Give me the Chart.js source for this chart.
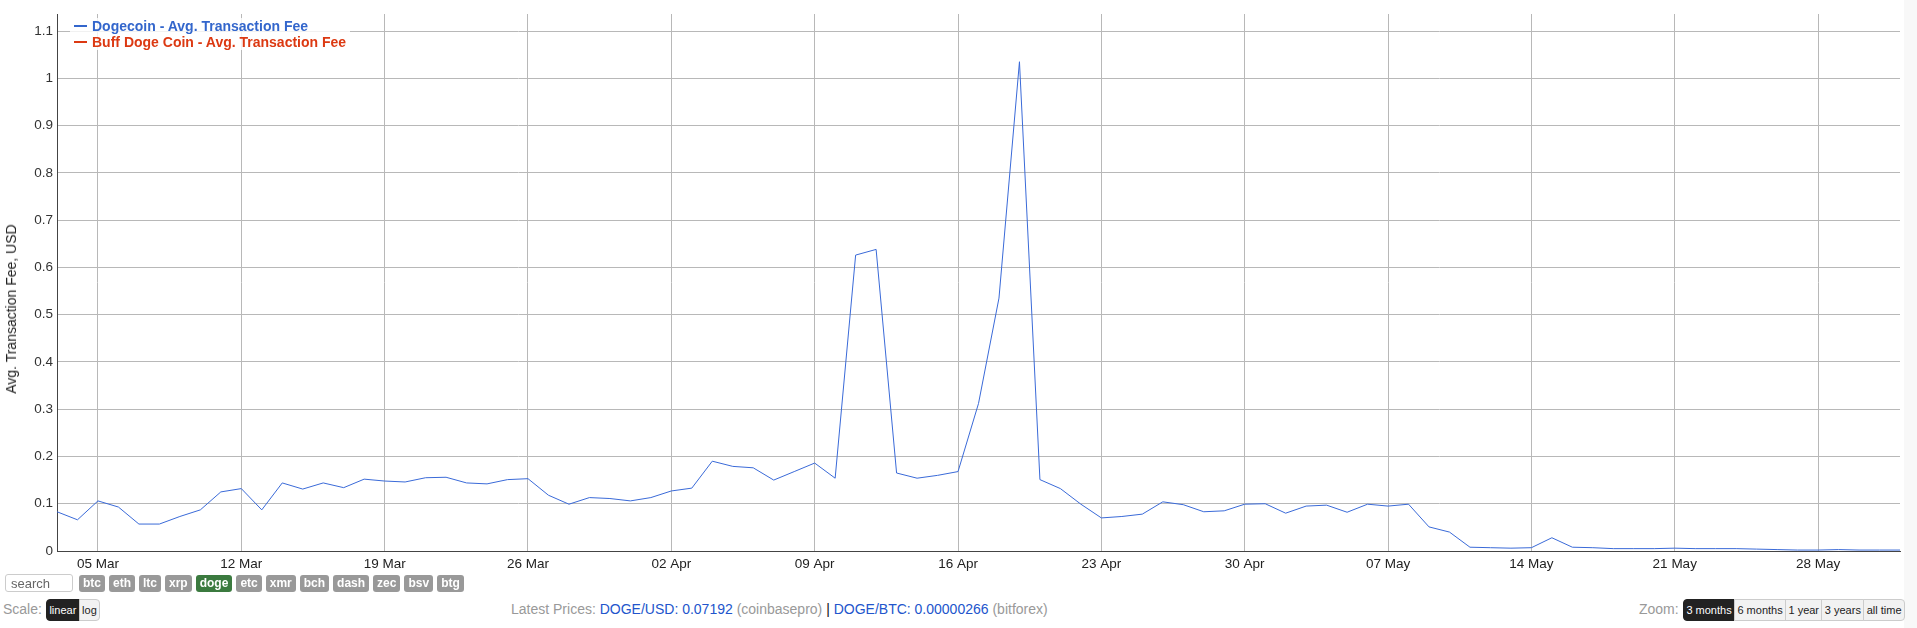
<!DOCTYPE html>
<html>
<head>
<meta charset="utf-8">
<title>Dogecoin - Avg. Transaction Fee</title>
<script src="https://cdn.jsdelivr.net/npm/chart.js@4/dist/chart.umd.min.js"></script>
<style>
    html, body { margin: 0; padding: 0; background: #fff; }
    body { width: 1917px; height: 628px; position: relative; overflow: hidden;
           font-family: Arial, "Liberation Sans", sans-serif; }
    #chartBox { position: absolute; left: 0; top: 0; width: 1904px; height: 575px; }
    #sideStrip { position: absolute; left: 1904px; top: 0; width: 13px; height: 628px; background: #f8f8f8; }
    #yTitle { position: absolute; left: 11px; top: 309px; transform: translate(-50%, -50%) rotate(-90deg);
              white-space: nowrap; font-size: 14px; color: #222; }
    #legend { position: absolute; left: 70px; top: 18px; padding: 0 4px; background: rgba(255,255,255,0.8);
              font-size: 14px; font-weight: bold; line-height: 16px; }
    #legend .row { display: flex; align-items: center; }
    #legend .swatch { width: 13px; height: 2px; margin-right: 5px; }
    #search { position: absolute; left: 5px; top: 574px; width: 68px; height: 18px; box-sizing: border-box;
              border: 1px solid #ccc; border-radius: 3px; font-size: 13px; color: #666; padding: 1px 5px; }
    #coins { position: absolute; left: 79px; top: 575px; display: flex; gap: 4px; }
    #coins span { background: #999; color: #fff; font-weight: bold; font-size: 12px; line-height: 17px;
                  height: 17px; padding: 0 4px; border-radius: 3px; }
    #coins span.on { background: #3b7a3f; }
    .lbl { position: absolute; font-size: 14px; color: #999; line-height: 16px; }
    .btns { position: absolute; display: flex; top: 599px; height: 22px; }
    .btns span { font-size: 11px; line-height: 20px; height: 20px; padding: 0 2.4px; border: 1px solid #ccc;
                 background: #f2f2f2; color: #222; margin-left: -1px; }
    .btns span:first-child { border-radius: 4px 0 0 4px; margin-left: 0; }
    .btns span:last-child { border-radius: 0 4px 4px 0; }
    .btns span.on { background: #222; color: #fff; border-color: #222; }
    #prices { position: absolute; left: 511px; top: 601px; font-size: 14px; line-height: 16px; color: #999; white-space: nowrap; }
    #prices b { font-weight: normal; color: #2255cc; }
    #prices i { font-style: normal; color: #111; }
</style>
</head>
<body>
<div id="chartBox"><canvas id="feeChart"></canvas></div>
<div id="sideStrip"></div>
<div id="yTitle">Avg. Transaction Fee, USD</div>
<div id="legend">
    <div class="row" style="color:#3366cc"><span class="swatch" style="background:#3366cc"></span>Dogecoin - Avg. Transaction Fee</div>
    <div class="row" style="color:#dc3912"><span class="swatch" style="background:#dc3912"></span>Buff Doge Coin - Avg. Transaction Fee</div>
</div>

<div id="search">search</div>
<div id="coins">
    <span>btc</span><span>eth</span><span>ltc</span><span>xrp</span><span class="on">doge</span><span>etc</span>
    <span>xmr</span><span>bch</span><span>dash</span><span>zec</span><span>bsv</span><span>btg</span>
</div>
<div class="lbl" style="left:3px; top:601px;">Scale:</div>
<div class="btns" style="left:46px;"><span class="on">linear</span><span>log</span></div>
<div id="prices">Latest Prices: <b>DOGE/USD: 0.07192</b> (coinbasepro) <i>|</i> <b>DOGE/BTC: 0.00000266</b> (bitforex)</div>
<div class="lbl" style="left:1639px; top:601px;">Zoom:</div>
<div class="btns" style="left:1683px;"><span class="on">3 months</span><span>6 months</span><span>1 year</span><span>3 years</span><span>all time</span></div>

<script>
// daily points, 03 Mar .. 01 Jun
const monthNames = ['Mar', 'Apr', 'May', 'Jun'];
const monthDays = [[3, 31], [1, 30], [1, 31], [1, 1]];
const dates = [];
monthDays.forEach((r, m) => {
    for (let d = r[0]; d <= r[1]; d++) dates.push(String(d).padStart(2, '0') + ' ' + monthNames[m]);
});

const dogeFees = [
    0.083, 0.066, 0.106, 0.093, 0.057, 0.057, 0.073, 0.087, 0.125, 0.132,   // 03-12 Mar
    0.087, 0.144, 0.131, 0.144, 0.134, 0.152, 0.148, 0.146, 0.155, 0.156,   // 13-22 Mar
    0.144, 0.142, 0.151, 0.153, 0.118, 0.099, 0.113, 0.111, 0.106, 0.113,   // 23 Mar-01 Apr
    0.127, 0.133, 0.190, 0.179, 0.176, 0.150, 0.168, 0.186, 0.154, 0.626,   // 02-11 Apr
    0.638, 0.165, 0.154, 0.160, 0.168, 0.312, 0.535, 1.035, 0.151, 0.132,   // 12-21 Apr
    0.099, 0.070, 0.073, 0.078, 0.104, 0.098, 0.083, 0.085, 0.099, 0.100,   // 22 Apr-01 May
    0.080, 0.095, 0.097, 0.082, 0.099, 0.095, 0.099, 0.051, 0.040, 0.008,   // 02-11 May
    0.007, 0.006, 0.007, 0.028, 0.008, 0.007, 0.005, 0.005, 0.005, 0.006,   // 12-21 May
    0.005, 0.005, 0.005, 0.004, 0.003, 0.002, 0.002, 0.003, 0.002, 0.002,   // 22-31 May
    0.002                                                                   // 01 Jun
];
const buffFees = [];

const xTickLabels = ['05 Mar', '12 Mar', '19 Mar', '26 Mar', '02 Apr', '09 Apr', '16 Apr',
                     '23 Apr', '30 Apr', '07 May', '14 May', '21 May', '28 May'];
const yTickValues = [0, 0.1, 0.2, 0.3, 0.4, 0.5, 0.6, 0.7, 0.8, 0.9, 1, 1.1];

Chart.defaults.font.family = 'Arial, "Liberation Sans", sans-serif';
Chart.defaults.font.size = 13.5;

const ctx = document.getElementById('feeChart').getContext('2d');
new Chart(ctx, {
    type: 'line',
    data: {
        labels: dates,
        datasets: [{
            label: 'Dogecoin - Avg. Transaction Fee',
            data: dogeFees,
            borderColor: '#3a6ad8',
            borderWidth: 1,
            pointRadius: 0,
            tension: 0
        }, {
            label: 'Buff Doge Coin - Avg. Transaction Fee',
            data: buffFees,
            borderColor: '#dc3912',
            borderWidth: 1,
            pointRadius: 0
        }]
    },
    options: {
        responsive: true,
        maintainAspectRatio: false,
        animation: false,
        layout: { padding: { top: 14, right: 4, left: 0, bottom: 0 } },
        plugins: {
            legend: { display: false },
            tooltip: { enabled: false }
        },
        scales: {
            x: {
                type: 'category',
                offset: false,
                grid: { color: '#b8b8b8', drawTicks: false },
                border: { color: '#444' },
                ticks: {
                    autoSkip: false,
                    maxRotation: 0,
                    padding: 5,
                    color: '#222',
                    callback: function (value) { return dates[value]; }
                },
                afterBuildTicks: function (scale) {
                    scale.ticks = scale.ticks.filter(t => xTickLabels.includes(dates[t.value]));
                },
                afterFit: function (scale) { scale.height = 24; }
            },
            y: {
                min: 0,
                max: 1.136,
                grid: { color: '#b8b8b8', drawTicks: false },
                border: { color: '#444' },
                ticks: {
                    padding: 4,
                    color: '#333',
                    callback: function (value) { return String(value); }
                },
                afterBuildTicks: function (scale) {
                    scale.ticks = yTickValues.map(v => ({ value: v }));
                },
                afterFit: function (scale) { scale.width = 57; }
            }
        }
    }
});
</script>
</body>
</html>
